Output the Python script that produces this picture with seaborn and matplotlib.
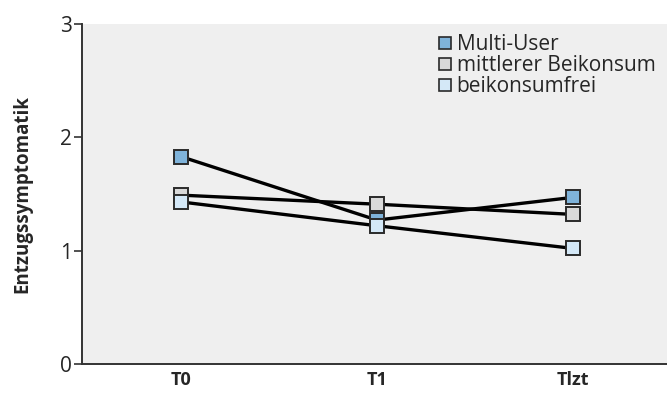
import matplotlib
matplotlib.use('Agg')
import matplotlib.pyplot as plt
import seaborn as sns
import pandas as pd
from matplotlib.lines import Line2D

# data
zeitpunkte = ['T0', 'T1', 'Tlzt']
gruppen = ['Multi-User', 'mittlerer Beikonsum', 'beikonsumfrei']
multi_user = [1.83, 1.27, 1.47]
mittlerer = [1.49, 1.41, 1.32]
beikonsumfrei = [1.43, 1.22, 1.02]
farben = ['#7fb3da', '#d9d9d9', '#d4e8f7']

df = pd.DataFrame({
    'Zeitpunkt': zeitpunkte * 3,
    'Gruppe': [g for g in gruppen for _ in zeitpunkte],
    'Wert': multi_user + mittlerer + beikonsumfrei,
})

sns.set_style('white')
plt.rcParams['font.family'] = ['Open Sans', 'DejaVu Sans']

fig = plt.figure(figsize=(6.67, 3.93), dpi=100)
ax = fig.add_axes([0.1229, 0.0738, 0.8771, 0.8651])
ax.set_facecolor('#efefef')

for g, c in zip(gruppen, farben):
    sns.lineplot(data=df[df['Gruppe'] == g], x='Zeitpunkt', y='Wert', ax=ax,
                 color='black', lw=2.4, marker='s', markersize=9.5,
                 markerfacecolor=c, markeredgecolor='#2a2a2a', markeredgewidth=1.4,
                 sort=False)

ax.set_xlim(-0.505, 2.48)
ax.set_ylim(0, 3)
ax.set_yticks([0, 1, 2, 3])
ax.set_xlabel('')
ax.set_ylabel('Entzugssymptomatik', fontsize=13.5, fontweight='bold', labelpad=20)
ax.tick_params(axis='y', labelsize=15, length=6, width=1.2, color='#333333', pad=1, left=True)
ax.tick_params(axis='x', labelsize=13, length=0, pad=5)
for lab in ax.get_xticklabels():
    lab.set_fontweight('bold')
for s in ['top', 'right']:
    ax.spines[s].set_visible(False)
for s in ['left', 'bottom']:
    ax.spines[s].set_color('#333333')
    ax.spines[s].set_linewidth(1.4)

handles = [Line2D([], [], ls='none', marker='s', markersize=8.5, markerfacecolor=c,
                  markeredgecolor='#2a2a2a', markeredgewidth=1.2) for c in farben]
ax.legend(handles, gruppen, loc='upper left', bbox_to_anchor=(0.585, 1.0), frameon=False,
          fontsize=15, handletextpad=0.05, handlelength=1.0, labelspacing=0.0,
          borderaxespad=0.1)

fig.savefig('out.png', dpi=100)
